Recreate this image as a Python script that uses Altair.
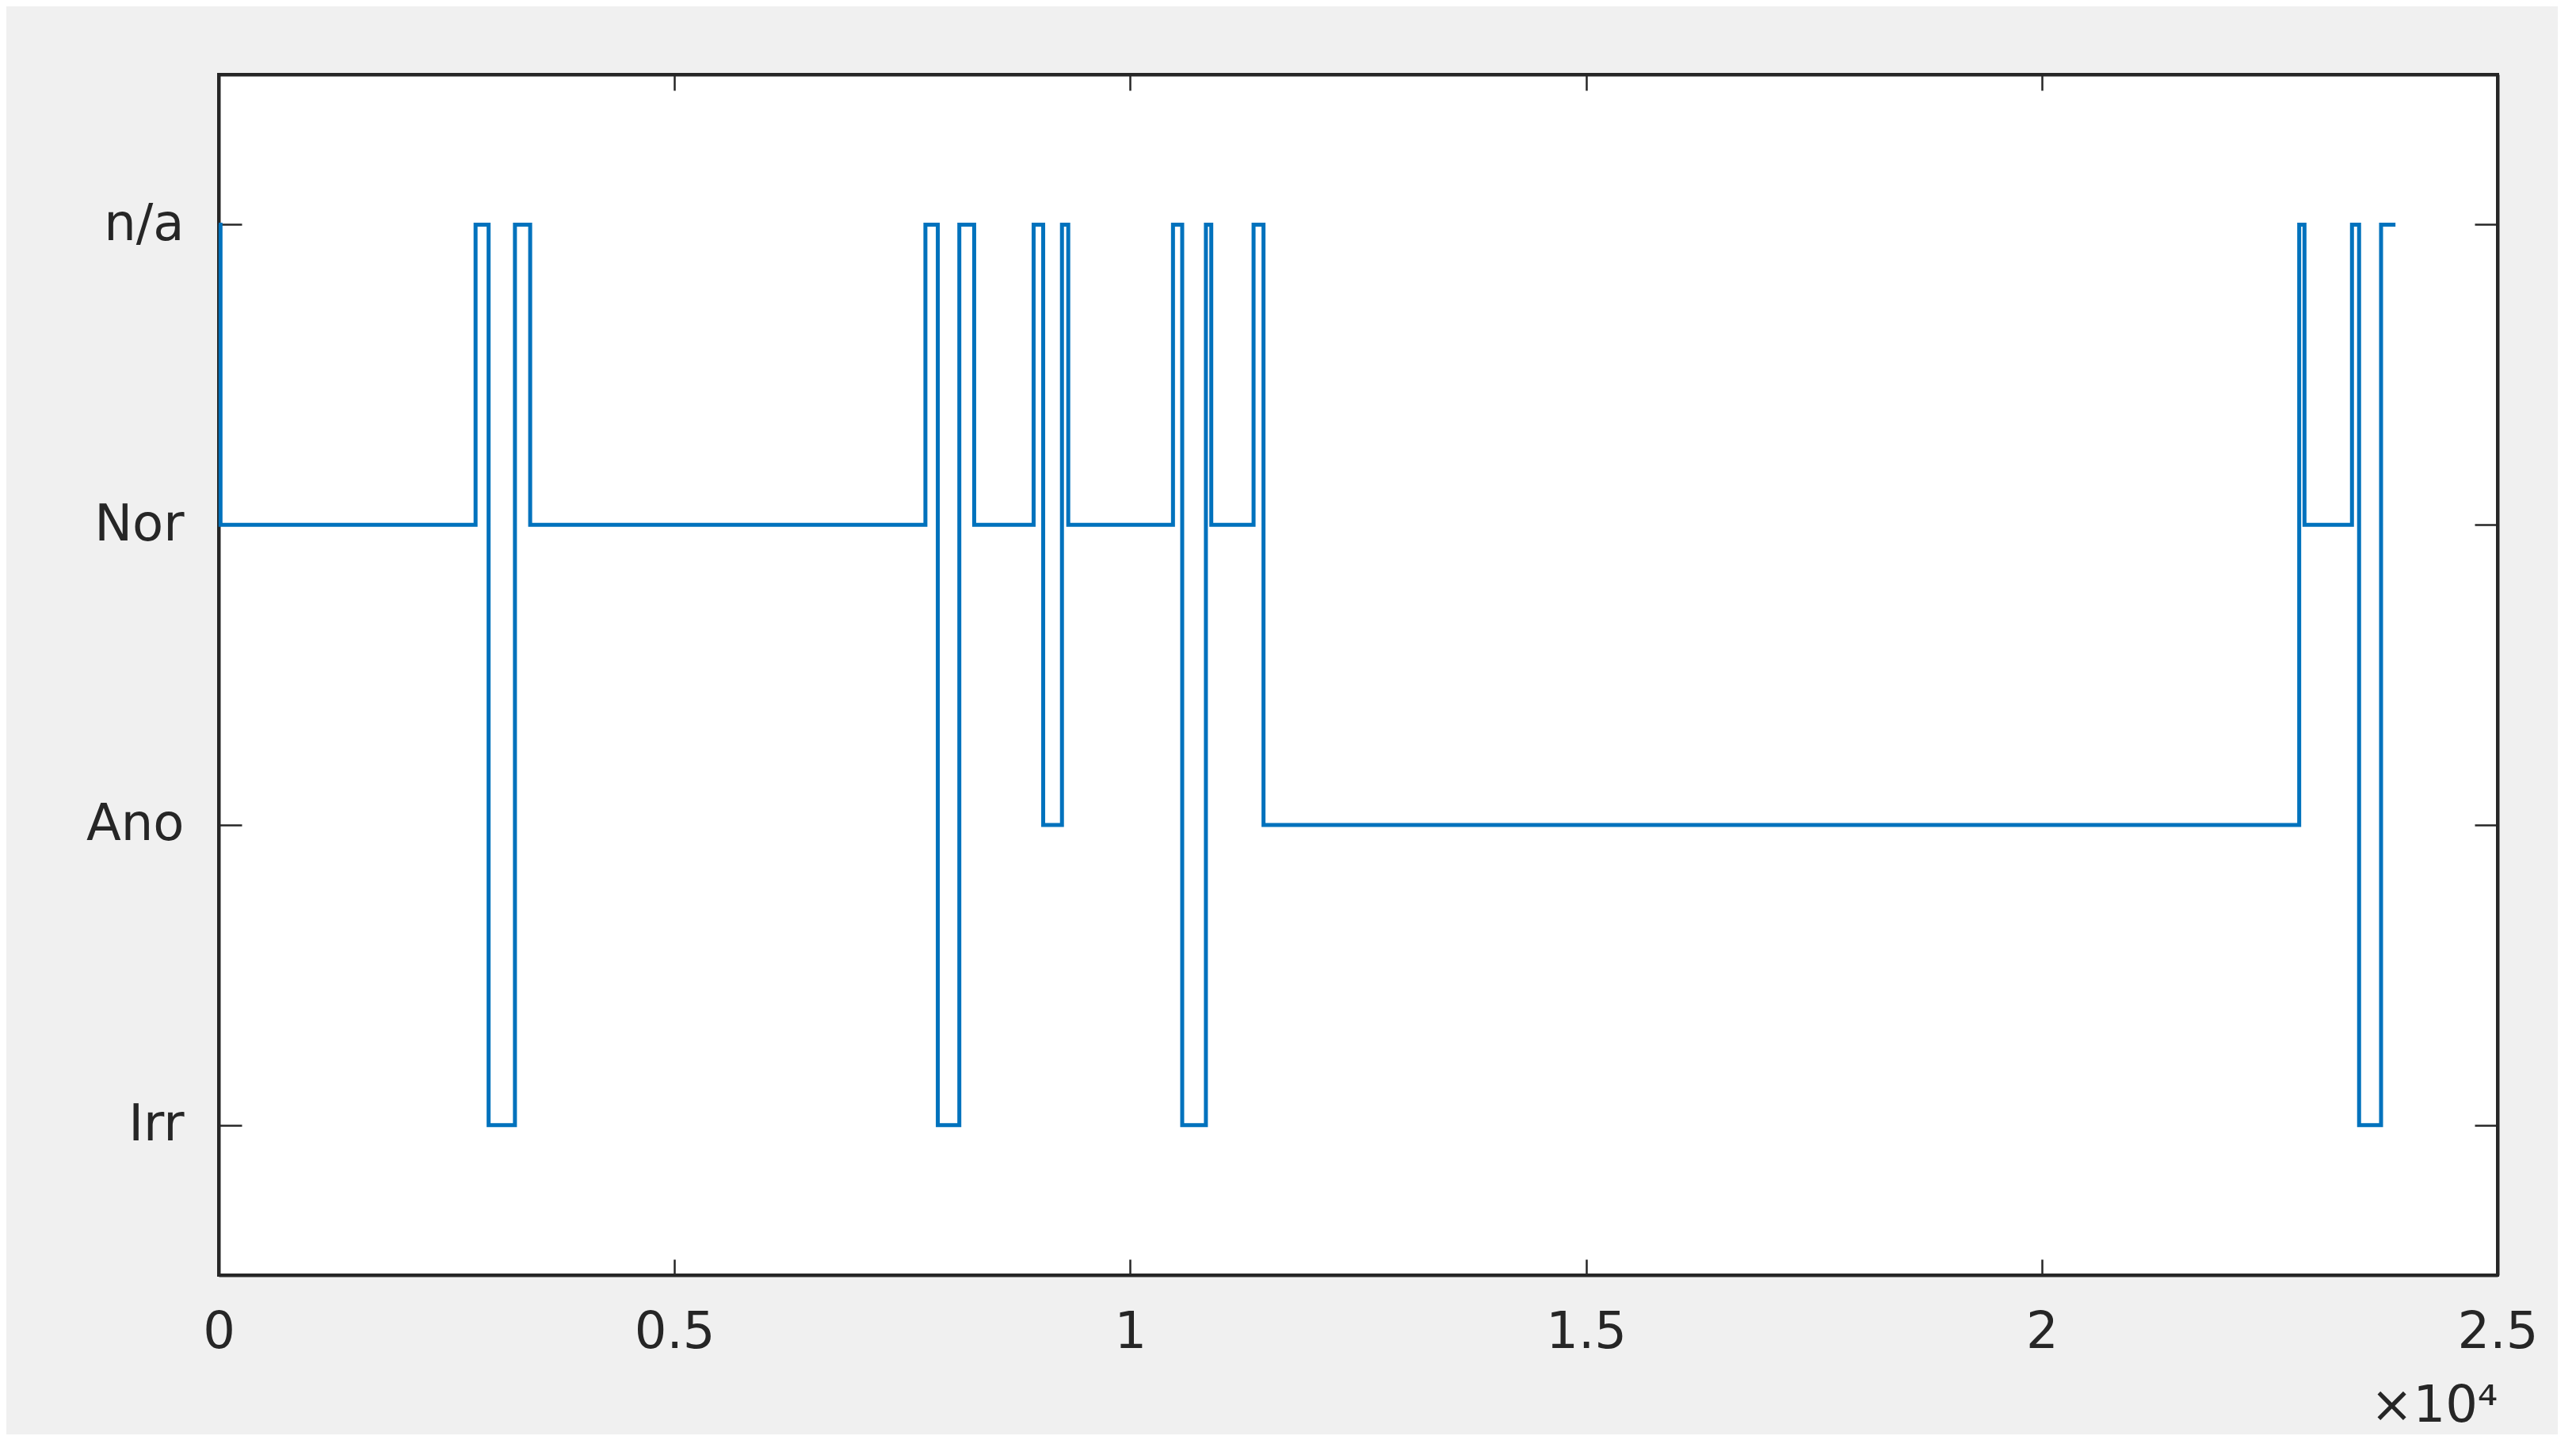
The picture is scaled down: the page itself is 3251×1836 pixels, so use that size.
import altair as alt
import pandas as pd

# ---- data ----
times = [0, 20, 2818, 2961, 3250, 3417, 7753, 7889, 8125, 8288, 8940, 9045,
         9251, 9320, 10469, 10570, 10830, 10889, 11353, 11462, 22824, 22882,
         23403, 23481, 23722, 23880]
states = ["n/a", "Nor", "n/a", "Irr", "n/a", "Nor", "n/a", "Irr", "n/a", "Nor",
          "n/a", "Ano", "n/a", "Nor", "n/a", "Irr", "n/a", "Nor", "n/a", "Ano",
          "n/a", "Nor", "n/a", "Irr", "n/a", "n/a"]
state_levels = ["Irr", "Ano", "Nor", "n/a"]          # bottom to top
level_values = [1, 2, 3, 4]
x_ticks = [0, 5000, 10000, 15000, 20000, 25000]
x_domain = [0, 25000]
y_domain = [0.5, 4.5]

level_of = dict(zip(state_levels, level_values))
df = pd.DataFrame({"t": times, "state": states,
                   "level": [level_of[s] for s in states]})

label_expr = "[" + ", ".join("'%s'" % s for s in state_levels) + "][datum.value - 1]"

FONT = "DejaVu Sans"
TXT = "#262626"
FS = 64
YTICK = 29
XTICK = 20

xscale = alt.Scale(domain=x_domain, nice=False, zero=False)
yscale = alt.Scale(domain=y_domain, nice=False, zero=False)

line = alt.Chart(df).mark_line(
    interpolate="step-after", color="#0072BD", strokeWidth=5
).encode(
    x=alt.X("t:Q", scale=xscale,
            axis=alt.Axis(orient="bottom", values=x_ticks,
                          labelExpr="format(datum.value / 10000, '.1~f')",
                          labelFlush=False,
                          tickSize={"expr": str(-XTICK)}, labelPadding=40 + XTICK,
                          title="×10⁴", titleX=2876, titleY=184,
                          titleAlign="right", titleBaseline="alphabetic",
                          titleAnchor="end")),
    y=alt.Y("level:Q", scale=yscale,
            axis=alt.Axis(orient="left", title=None, values=level_values,
                          labelExpr=label_expr, labelFlush=False,
                          tickSize={"expr": str(-YTICK)}, labelPadding=44 + YTICK)),
    order=alt.Order("t:Q"),
)

mirror = alt.Chart(df).mark_line(opacity=0).encode(
    x=alt.X("t:Q", scale=xscale,
            axis=alt.Axis(orient="top", values=x_ticks, labels=False, title=None,
                          tickSize={"expr": str(-XTICK)})),
    y=alt.Y("level:Q", scale=yscale,
            axis=alt.Axis(orient="right", labels=False, title=None,
                          values=level_values,
                          tickSize={"expr": str(-YTICK)})),
)

chart = alt.layer(line, mirror).resolve_axis(
    x="independent", y="independent"
).properties(
    width=2876, height=1515,
    autosize=alt.AutoSizeParams(type="none"),
    padding={"left": 268, "top": 86, "right": 76, "bottom": 201},
    background="#F0F0F0",
).configure_view(
    fill="white", stroke="#262626", strokeWidth=4
).configure_axis(
    grid=False,
    domainColor="#262626", domainWidth=4,
    tickColor="#262626", tickWidth=2.5,
    labelFont=FONT, labelFontSize=FS, labelColor=TXT,
    titleFont=FONT, titleFontSize=FS, titleColor=TXT, titleFontWeight="normal",
)

chart.save("out.html", embed_options={"renderer": "svg", "actions": False})
